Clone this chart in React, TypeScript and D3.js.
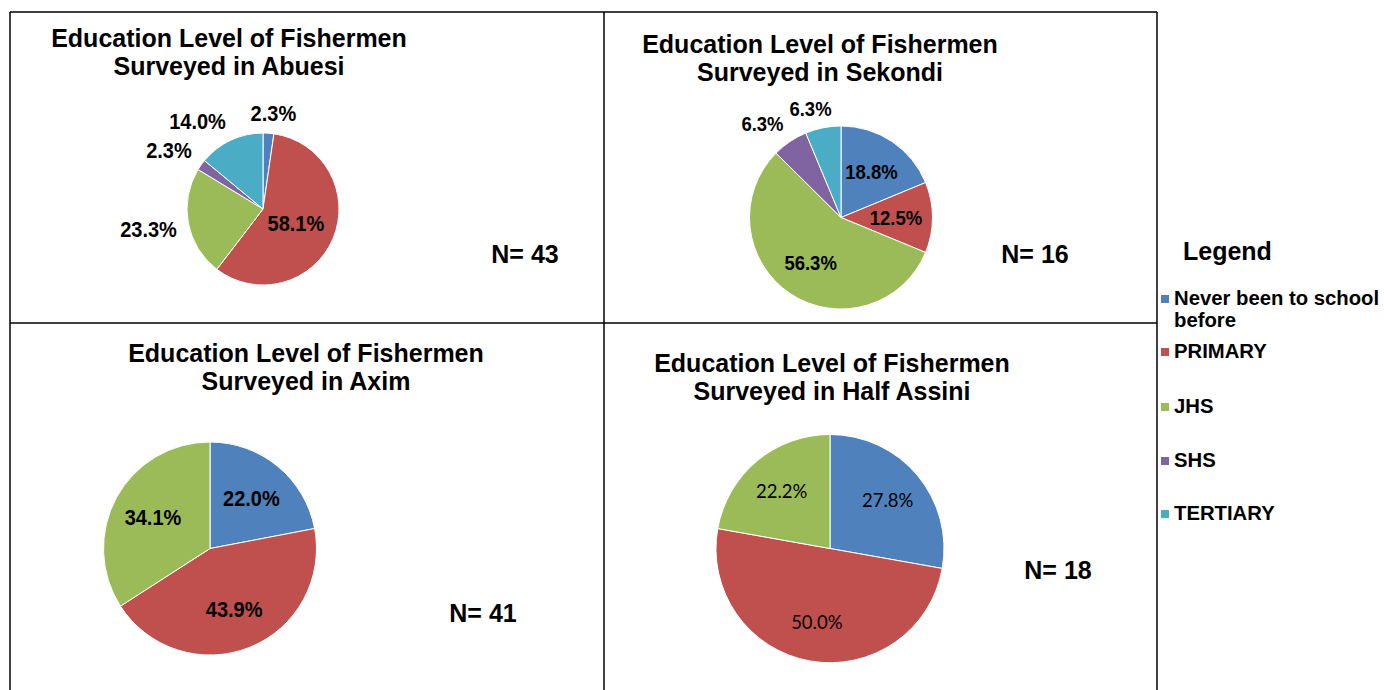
import React from "react";
import * as d3 from "d3";

// ---- Data ----
const categories = ["Never been to school before", "PRIMARY", "JHS", "SHS", "TERTIARY"];
const legendLines = [["Never been to school", "before"], ["PRIMARY"], ["JHS"], ["SHS"], ["TERTIARY"]];
const colors = ["#4F81BD", "#C0504D", "#9BBB59", "#8064A2", "#4BACC6"];
const towns = ["Abuesi", "Sekondi", "Axim", "Half Assini"];
const abuesiValues = [2.3, 58.1, 23.3, 2.3, 14.0];
const sekondiValues = [18.8, 12.5, 56.3, 6.3, 6.3];
const aximValues = [22.0, 43.9, 34.1, 0, 0];
const halfAssiniValues = [27.8, 50.0, 22.2, 0, 0];
const sampleSizes = [43, 16, 41, 18];
// label placement (outside end vs inside) per slice
const abuesiOutside = [true, false, true, true, true];
const sekondiOutside = [false, false, false, true, true];
const aximOutside = [false, false, false, false, false];
const halfAssiniOutside = [false, false, false, false, false];

// ---- Layout (styles / positions) ----
const FONT = "'Liberation Sans', Arial, sans-serif";
const panels = [
  { values: abuesiValues, outside: abuesiOutside, town: towns[0], n: sampleSizes[0],
    titleX: 229, titleY: 47, cx: 263, cy: 209, r: 76, nX: 525, nY: 263,
    labelSize: 20, labelWeight: "bold", labelFont: FONT, inRatio: 0.47, stretch: 1.12 },
  { values: sekondiValues, outside: sekondiOutside, town: towns[1], n: sampleSizes[1],
    titleX: 820, titleY: 53, cx: 841, cy: 217.5, r: 91.5, nX: 1035, nY: 263,
    labelSize: 18.5, labelWeight: "bold", labelFont: FONT, inRatio: 0.6, stretch: 1.1 },
  { values: aximValues, outside: aximOutside, town: towns[2], n: sampleSizes[2],
    titleX: 306, titleY: 362, cx: 210, cy: 548.5, r: 106.5, nX: 483, nY: 622,
    labelSize: 20, labelWeight: "bold", labelFont: FONT, inRatio: 0.61, stretch: 1.12 },
  { values: halfAssiniValues, outside: halfAssiniOutside, town: towns[3], n: sampleSizes[3],
    titleX: 832, titleY: 372, cx: 830, cy: 548.5, r: 114, nX: 1058, nY: 579,
    labelSize: 18.5, labelWeight: "normal", labelFont: "Lato, 'Open Sans', sans-serif", inRatio: 0.66, stretch: 1.05 },
];

const clamp1 = (v: number) => Math.max(-1, Math.min(1, v));

function PiePanel({ p }: { p: any }) {
  const data = p.values.map((v: number, i: number) => ({ v, i }));
  const pie = d3.pie<any>().value((d: any) => d.v).sort(null).startAngle(0).endAngle(2 * Math.PI);
  const arcs = pie(data);
  const arc = d3.arc<any>().innerRadius(0).outerRadius(p.r);
  const fmt = d3.format(".1f");
  return (
    <g>
      <text x={p.titleX} y={p.titleY} textAnchor="middle" fontFamily={FONT} fontWeight="bold" fontSize={25} fill="#000">
        Education Level of Fishermen
      </text>
      <text x={p.titleX} y={p.titleY + 28} textAnchor="middle" fontFamily={FONT} fontWeight="bold" fontSize={25} fill="#000">
        {"Surveyed in " + p.town}
      </text>
      <g transform={`translate(${p.cx},${p.cy})`}>
        {arcs.map((a: any) =>
          a.data.v > 0 ? (
            <path key={a.data.i} d={arc(a) as string} fill={colors[a.data.i]} stroke="#fff" strokeWidth={1} />
          ) : null
        )}
        {arcs.map((a: any) => {
          if (a.data.v <= 0) return null;
          const label = fmt(a.data.v) + "%";
          const mid = (a.startAngle + a.endAngle) / 2;
          const s = Math.sin(mid), c = -Math.cos(mid);
          let x, y;
          if (p.outside[a.data.i]) {
            const rr = p.r + 12;
            const halfW = label.length * p.labelSize * 0.28;
            const halfH = p.labelSize * 0.4;
            x = s * rr + clamp1(s / 0.4) * halfW;
            y = c * rr + clamp1(c / 0.4) * halfH;
          } else {
            x = s * p.r * p.inRatio;
            y = c * p.r * p.inRatio;
          }
          return (
            <text key={"l" + a.data.i} transform={`translate(${x},${y}) scale(1,${p.stretch})`} dy="0.35em"
              textAnchor="middle" fontFamily={p.labelFont}
              fontWeight={p.labelWeight} fontSize={p.labelSize} fill="#000">
              {label}
            </text>
          );
        })}
      </g>
      <text x={p.nX} y={p.nY} textAnchor="middle" fontFamily={FONT} fontWeight="bold" fontSize={25} fill="#000">
        {"N= " + p.n}
      </text>
    </g>
  );
}

const legendRowY = [305, 358, 413, 467, 520];

export default function App() {
  return (
    <svg width={1384} height={690} style={{ position: "absolute", left: 0, top: 0, background: "#fff" }}>
      <rect x={0} y={0} width={1384} height={690} fill="#fff" />
      {/* grid frame */}
      <g stroke="#000" strokeWidth={1.5}>
        <line x1={10} y1={12} x2={1157} y2={12} />
        <line x1={10} y1={323} x2={1157} y2={323} />
        <line x1={10} y1={12} x2={10} y2={690} />
        <line x1={604} y1={12} x2={604} y2={690} />
        <line x1={1157} y1={12} x2={1157} y2={690} />
      </g>
      {panels.map((p, i) => (
        <PiePanel key={i} p={p} />
      ))}
      {/* legend */}
      <text x={1183} y={260} fontFamily={FONT} fontWeight="bold" fontSize={25} fill="#000">Legend</text>
      {categories.map((cat, i) => (
        <g key={cat}>
          <rect x={1161} y={legendRowY[i] - 10} width={8} height={8} fill={colors[i]} />
          {legendLines[i].map((ln, j) => (
            <text key={j} x={1174} y={legendRowY[i] + j * 22} fontFamily={FONT} fontWeight="bold" fontSize={20.3} fill="#000">
              {ln}
            </text>
          ))}
        </g>
      ))}
    </svg>
  );
}
